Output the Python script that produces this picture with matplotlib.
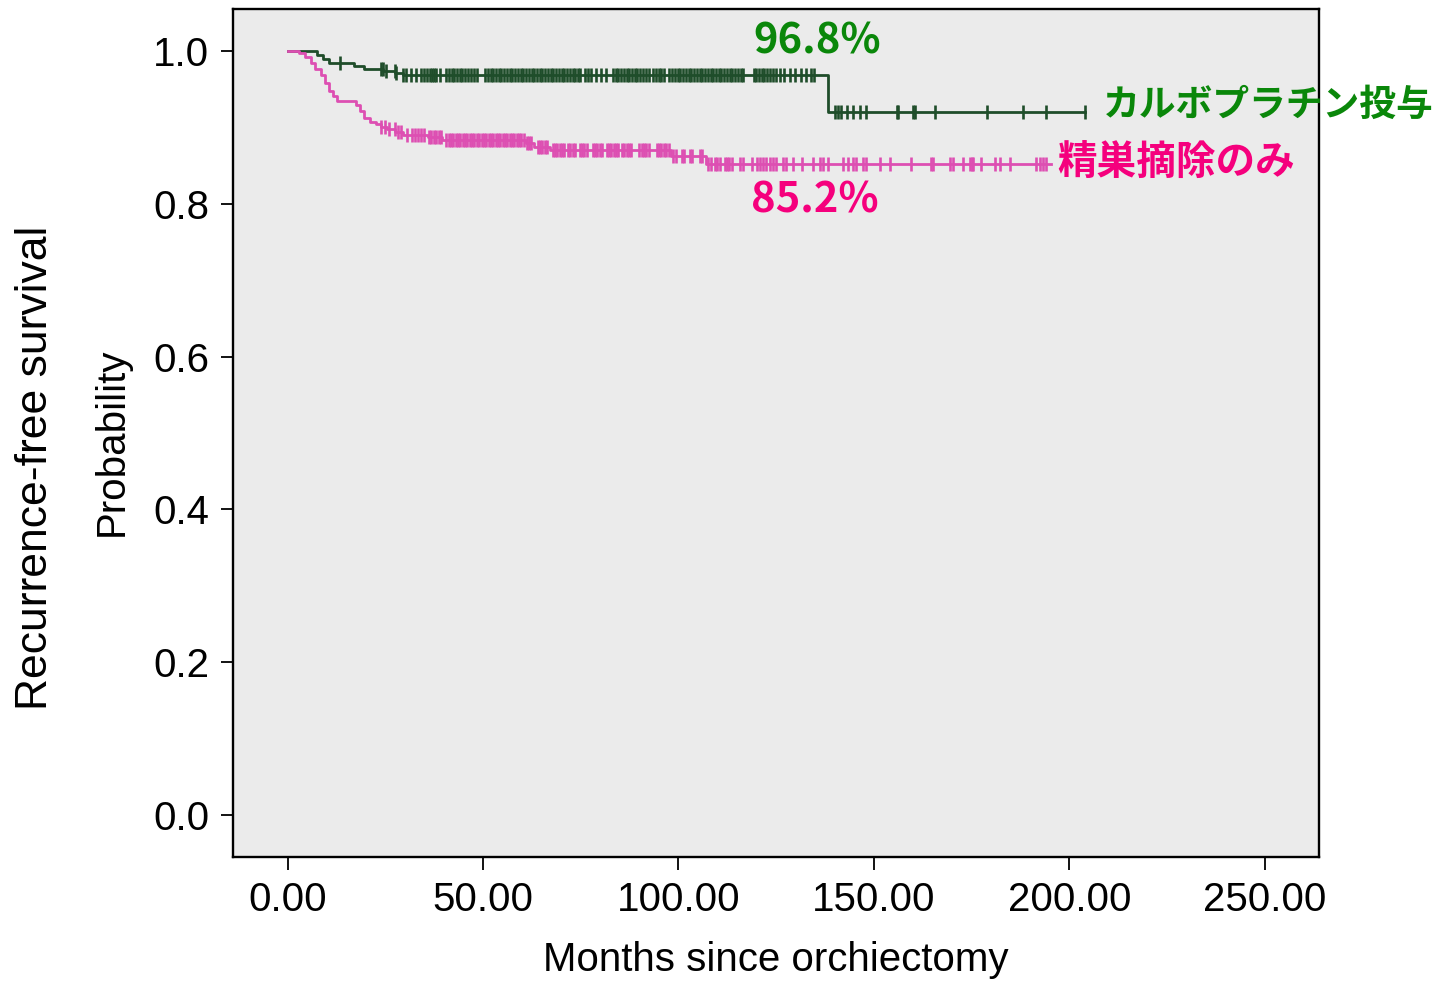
import numpy as np
import matplotlib
matplotlib.use("Agg")
from matplotlib import pyplot as plt
from matplotlib.ticker import FormatStrFormatter

# Kaplan-Meier curves (months, survival after each event)
carbo_event_t = [7.5, 9.0, 10.5, 17.0, 19.5, 24.5, 27.5, 29.5, 138.3]
carbo_surv = [0.995, 0.990, 0.985, 0.981, 0.977, 0.974, 0.971, 0.968, 0.920]
carbo_end = 203.9
carbo_censor = [13.3, 24.0, 24.4, 25.2, 27.4, 27.8, 29.5, 30.4, 31.6, 32.9, 34.2,
                35.0, 35.6, 36.3, 36.9, 37.5, 38.0, 38.9, 40.6, 41.3, 42.0, 42.6,
                43.3, 44.0, 44.7, 45.5, 46.2, 47.0, 47.6, 48.4, 50.5, 51.2, 51.9,
                52.6, 53.3, 54.0, 54.7, 55.4, 56.1, 56.8, 57.5, 58.2, 58.9, 59.6,
                60.3, 61.0, 61.7, 62.4, 63.1, 63.8, 64.5, 65.2, 65.9, 66.6, 67.3,
                68.0, 68.7, 69.4, 70.1, 70.8, 71.5, 72.2, 72.9, 73.6, 74.3, 74.9,
                76.0, 76.8, 77.7, 78.9, 80.2, 81.5, 83.2, 83.9, 84.6, 85.3, 86.0,
                86.7, 87.4, 88.1, 88.8, 89.5, 90.2, 90.8, 91.7, 92.4, 93.5, 94.2,
                94.9, 95.6, 96.3, 97.7, 98.4, 99.1, 99.8, 100.5, 101.2, 101.9,
                102.6, 103.3, 104.0, 104.7, 105.4, 106.1, 106.8, 107.5, 108.2,
                108.9, 109.6, 110.3, 111.0, 111.7, 112.4, 113.1, 113.8, 114.5,
                115.2, 115.9, 116.6, 119.2, 119.9, 120.6, 121.3, 122.0, 122.7,
                123.4, 124.1, 125.0, 126.0, 127.0, 128.5, 129.7, 131.4, 132.7,
                134.0, 134.8, 140.0, 140.8, 141.7, 143.0, 144.7, 146.4, 148.1,
                155.8, 156.2, 160.0, 160.4, 165.6, 178.9, 188.1, 194.1, 203.9]

orch_event_t = [3.0, 4.5, 6.0, 7.0, 8.5, 9.5, 10.5, 11.5, 12.5, 17.5, 18.5, 19.5,
                21.0, 22.5, 24.0, 25.5, 27.5, 29.5, 36.0, 39.5, 61.0, 63.0, 67.0,
                98.0, 107.0]
orch_surv = [0.997, 0.992, 0.985, 0.976, 0.968, 0.958, 0.948, 0.941, 0.935, 0.929,
             0.921, 0.913, 0.907, 0.904, 0.901, 0.898, 0.894, 0.890, 0.887, 0.884,
             0.879, 0.874, 0.870, 0.863, 0.852]
orch_end = 195.4
orch_censor = [24.0, 25.0, 26.0, 27.4, 28.2, 29.0, 30.6, 31.8, 32.6, 33.4, 34.2,
               35.0, 36.2, 36.8, 37.4, 38.0, 38.6, 39.3, 40.6, 41.2, 41.8, 42.4,
               43.0, 43.6, 44.2, 44.8, 45.4, 46.0, 46.6, 47.2, 47.8, 48.4, 49.0,
               49.6, 50.2, 50.8, 51.4, 52.0, 52.6, 53.2, 53.8, 54.4, 55.0, 55.6,
               56.2, 56.8, 57.4, 58.0, 58.6, 59.2, 59.8, 60.5, 61.2, 61.8, 62.3,
               64.0, 64.6, 65.2, 65.8, 66.4, 67.8, 68.4, 69.0, 69.6, 70.2, 70.8,
               71.7, 72.3, 72.9, 73.5, 74.7, 75.3, 75.9, 76.5, 78.0, 78.6, 79.2,
               79.8, 80.5, 81.6, 82.2, 82.8, 83.4, 84.0, 84.6, 85.5, 86.1, 86.7,
               87.3, 87.9, 90.0, 90.6, 91.2, 91.8, 92.5, 94.4, 95.0, 95.6, 96.2,
               96.9, 97.7, 98.6, 99.4, 100.8, 101.5, 102.9, 103.5, 105.4, 106.0,
               107.6, 108.3, 109.3, 109.9, 110.5, 111.8, 112.4, 113.0, 113.6,
               115.7, 116.4, 118.7, 120.0, 120.8, 121.6, 122.5, 123.3, 124.2,
               125.0, 126.7, 127.6, 129.2, 131.5, 134.4, 136.1, 136.9, 138.3,
               142.1, 143.4, 144.7, 145.5, 147.2, 148.1, 151.5, 154.0, 159.6,
               164.7, 165.1, 169.4, 170.3, 172.8, 174.5, 175.0, 175.4, 177.5,
               180.9, 182.2, 184.8, 191.6, 192.4, 193.2, 194.1]

x_ticks = [0, 50, 100, 150, 200, 250]
y_ticks = [0.0, 0.2, 0.4, 0.6, 0.8, 1.0]

carbo_pct = "96.8%"
orch_pct = "85.2%"
carbo_label = "カルボプラチン投与"
orch_label = "精巣摘除のみ"

GREEN_LINE = "#1f4d2a"
PINK_LINE = "#dd4fb2"
GREEN_TEXT = "#0a870a"
PINK_TEXT = "#f5007d"
JP = ["Noto Sans CJK JP", "DejaVu Sans"]
LAT = ["Liberation Sans", "DejaVu Sans"]


def km_curve(ax, ev_t, surv, end, censor, color):
    xs = np.concatenate([[0.0], ev_t, [end]])
    ys = np.concatenate([[1.0], surv, [surv[-1]]])
    ax.step(xs, ys, where="post", color=color, lw=2.0, zorder=3)
    idx = np.searchsorted(ev_t, censor, side="right")
    levels = np.concatenate([[1.0], surv])[idx]
    ax.plot(censor, levels, ls="none", marker="|", ms=10, mew=1.9,
            color=color, zorder=4)


fig = plt.figure(figsize=(14.38, 9.81), dpi=100)
ax = fig.add_axes([0.162, 0.1264, 0.755, 0.8644])
ax.set_facecolor("#ebebeb")

km_curve(ax, carbo_event_t, carbo_surv, carbo_end, carbo_censor, GREEN_LINE)
km_curve(ax, orch_event_t, orch_surv, orch_end, orch_censor, PINK_LINE)

ax.set_xlim(-14, 263.8)
ax.set_ylim(-0.055, 1.055)
ax.set_xticks(x_ticks)
ax.set_yticks(y_ticks)
ax.xaxis.set_major_formatter(FormatStrFormatter("%.2f"))
ax.yaxis.set_major_formatter(FormatStrFormatter("%.1f"))
ax.tick_params(direction="out", length=9, width=1.3, labelsize=29, pad=8)
for lab in ax.get_xticklabels() + ax.get_yticklabels():
    lab.set_family(LAT)
for sp in ax.spines.values():
    sp.set_linewidth(1.7)

ax.set_xlabel("Months since orchiectomy", fontsize=29, family=LAT, labelpad=16)
fig.text(0.0245, 0.523, "Recurrence-free survival", rotation=90, fontsize=32,
         family=LAT, ha="center", va="center")
fig.text(0.078, 0.550, "Probability", rotation=90, fontsize=29,
         family=LAT, ha="center", va="center")

ax.text(135.6, 1.012, carbo_pct, color=GREEN_TEXT, fontsize=30, fontweight="bold",
        family=JP, ha="center", va="center")
ax.text(134.9, 0.805, orch_pct, color=PINK_TEXT, fontsize=30, fontweight="bold",
        family=JP, ha="center", va="center")
ax.text(208.5, 0.929, carbo_label, color=GREEN_TEXT, fontsize=26.5, fontweight="bold",
        family=JP, ha="left", va="center", clip_on=False)
ax.text(197.0, 0.853, orch_label, color=PINK_TEXT, fontsize=28.5, fontweight="bold",
        family=JP, ha="left", va="center")

fig.savefig("out.png", dpi=100)
